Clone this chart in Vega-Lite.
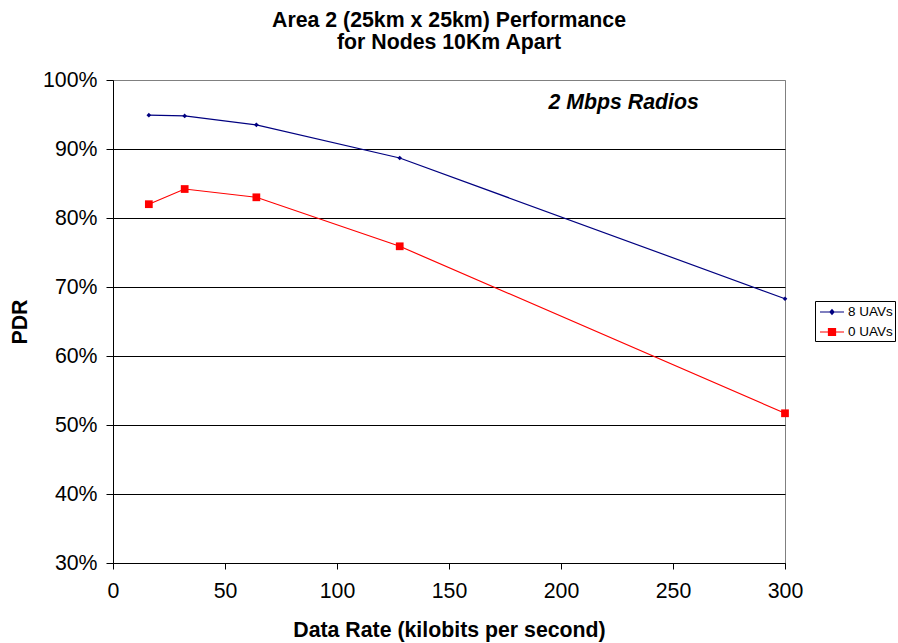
{
  "$schema": "https://vega.github.io/schema/vega-lite/v6.json",
  "width": 672,
  "height": 483,
  "autosize": {"type": "none"},
  "padding": {"left": 113, "top": 80, "right": 113, "bottom": 80},
  "background": "white",
  "config": {
    "font": "Liberation Sans",
    "view": {"stroke": "#808080", "strokeWidth": 1}
  },
  "title": {
    "text": ["Area 2 (25km x 25km) Performance", "for Nodes 10Km Apart"],
    "font": "Liberation Sans",
    "fontSize": 21.3,
    "fontWeight": "bold",
    "lineHeight": 22,
    "anchor": "middle",
    "offset": 16,
    "color": "black"
  },
  "datasets": {
    "pts": [
      {"rate": 16, "pdr": 0.949, "series": "8 UAVs"},
      {"rate": 32, "pdr": 0.948, "series": "8 UAVs"},
      {"rate": 64, "pdr": 0.935, "series": "8 UAVs"},
      {"rate": 128, "pdr": 0.887, "series": "8 UAVs"},
      {"rate": 300, "pdr": 0.683, "series": "8 UAVs"},
      {"rate": 16, "pdr": 0.820, "series": "0 UAVs"},
      {"rate": 32, "pdr": 0.842, "series": "0 UAVs"},
      {"rate": 64, "pdr": 0.830, "series": "0 UAVs"},
      {"rate": 128, "pdr": 0.759, "series": "0 UAVs"},
      {"rate": 300, "pdr": 0.517, "series": "0 UAVs"}
    ],
    "note": [
      {"rate": 228, "pdr": 0.967, "label": "2 Mbps Radios"}
    ]
  },
  "layer": [
    {
      "data": {"name": "pts"},
      "mark": {"type": "line", "strokeWidth": 1.2, "clip": false},
      "encoding": {
        "x": {
          "field": "rate", "type": "quantitative",
          "scale": {"domain": [0, 300], "nice": false, "zero": false},
          "axis": {
            "title": "Data Rate (kilobits per second)",
            "values": [0, 50, 100, 150, 200, 250, 300],
            "grid": false,
            "domainColor": "black", "tickColor": "black", "tickSize": 6,
            "labelFont": "Liberation Sans", "labelFontSize": 21.3, "labelColor": "black",
            "labelPadding": 11, "labelFlush": false,
            "titleFont": "Liberation Sans", "titleFontSize": 21.3, "titleFontWeight": "bold",
            "titleColor": "black", "titlePadding": 18
          }
        },
        "y": {
          "field": "pdr", "type": "quantitative",
          "scale": {"domain": [0.3, 1.0], "nice": false, "zero": false},
          "axis": {
            "title": "PDR",
            "format": ".0%",
            "values": [0.3, 0.4, 0.5, 0.6, 0.7, 0.8, 0.9, 1.0],
            "grid": true,
            "gridColor": {"condition": {"test": "datum.value >= 0.99", "value": "#808080"}, "value": "black"},
            "gridWidth": 1,
            "domainColor": "black", "tickColor": "black", "tickSize": 7,
            "labelFont": "Liberation Sans", "labelFontSize": 21.3, "labelColor": "black",
            "labelPadding": 9, "labelFlush": false,
            "titleFont": "Liberation Sans", "titleFontSize": 21.3, "titleFontWeight": "bold",
            "titleColor": "black", "titlePadding": 12
          }
        },
        "color": {
          "field": "series", "type": "nominal",
          "scale": {"domain": ["8 UAVs", "0 UAVs"], "range": ["#000080", "#ff0000"]},
          "legend": {
            "title": null,
            "orient": "none",
            "legendX": 702,
            "legendY": 221,
            "strokeColor": "black",
            "fillColor": "white",
            "padding": 2,
            "rowPadding": 4,
            "symbolSize": 256,
            "symbolOffset": 0,
            "symbolType": "M-1,0H1",
            "labelFont": "Liberation Sans",
            "labelFontSize": 13.5,
            "labelColor": "black",
            "labelOffset": 13,
            "encode": {
              "symbols": {
                "update": {
                  "shape": {"signal": "datum.value === '8 UAVs' ? 'M-0.75,0H2.25M0.5,0L0.75,-0.28L1,0L0.75,0.28Z' : 'M-0.75,0H2.25M0.31,-0.44H1.19V0.44H0.31Z'"},
                  "stroke": {"signal": "datum.value === '8 UAVs' ? '#000080' : '#ff0000'"},
                  "fill": {"signal": "datum.value === '8 UAVs' ? '#000080' : '#ff0000'"},
                  "size": {"value": 256},
                  "strokeWidth": {"value": 1.2},
                  "opacity": {"value": 1}
                }
              }
            }
          }
        }
      }
    },
    {
      "data": {"name": "pts"},
      "transform": [{"filter": "datum.series === '8 UAVs'"}],
      "mark": {"type": "point", "filled": true, "opacity": 1, "clip": false, "shape": "diamond", "size": 22},
      "encoding": {
        "x": {"field": "rate", "type": "quantitative"},
        "y": {"field": "pdr", "type": "quantitative"},
        "color": {"field": "series", "type": "nominal"}
      }
    },
    {
      "data": {"name": "pts"},
      "transform": [{"filter": "datum.series === '0 UAVs'"}],
      "mark": {"type": "point", "filled": true, "opacity": 1, "clip": false, "shape": "square", "size": 60},
      "encoding": {
        "x": {"field": "rate", "type": "quantitative"},
        "y": {"field": "pdr", "type": "quantitative"},
        "color": {"field": "series", "type": "nominal"}
      }
    },
    {
      "data": {"name": "note"},
      "mark": {"type": "text", "font": "Liberation Sans", "fontSize": 21.3, "fontWeight": "bold", "fontStyle": "italic", "color": "black", "align": "center", "baseline": "middle"},
      "encoding": {
        "x": {"field": "rate", "type": "quantitative"},
        "y": {"field": "pdr", "type": "quantitative"},
        "text": {"field": "label"}
      }
    }
  ]
}
